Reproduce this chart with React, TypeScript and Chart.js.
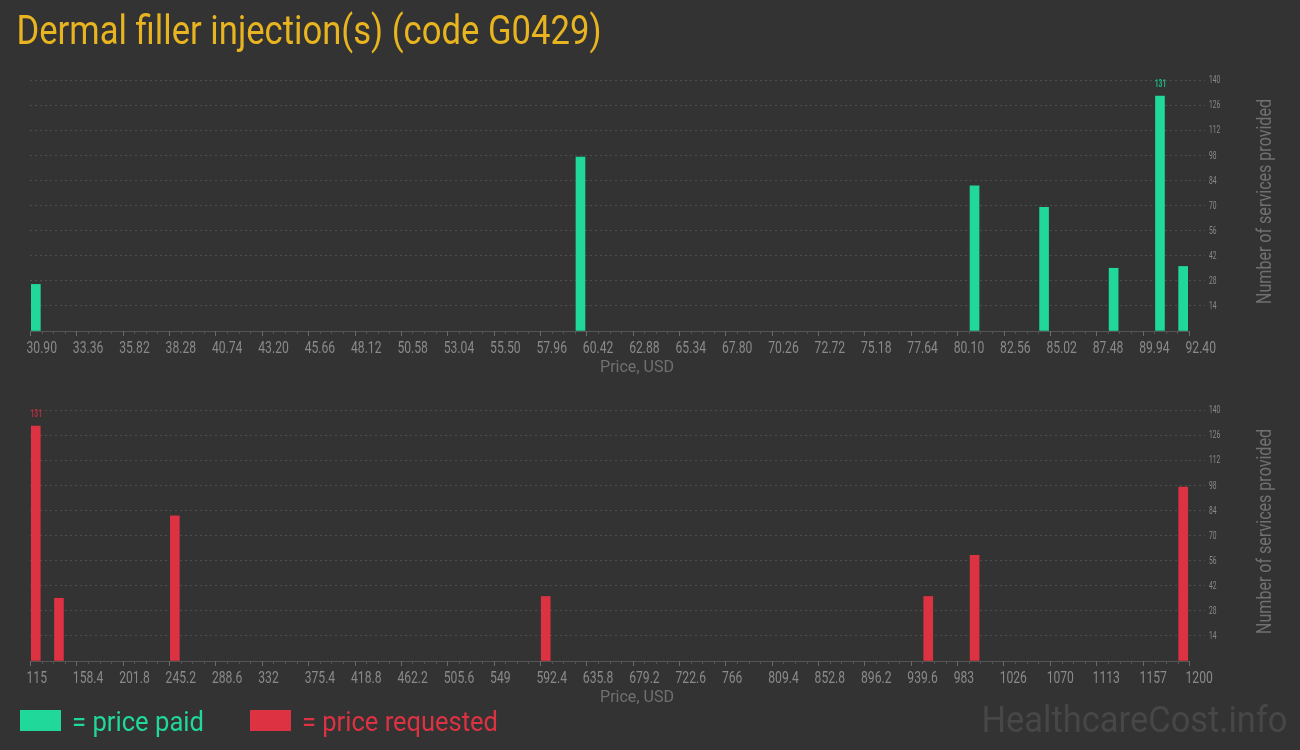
import { useEffect, useRef } from "react";
import { Chart, registerables } from "chart.js";

Chart.register(...registerables);

// ---- data ----
const titleText = "Dermal filler injection(s) (code G0429)";

// price paid: bin centre (USD) and number of services in that bin
const paidPrices = [31.21, 60.11, 81.02, 84.71, 88.4, 90.86, 92.09];
const paidCounts = [26, 97, 81, 69, 35, 131, 36];
const paidTickLabels = [
  "30.90", "33.36", "35.82", "38.28", "40.74", "43.20", "45.66", "48.12", "50.58",
  "53.04", "55.50", "57.96", "60.42", "62.88", "65.34", "67.80", "70.26", "72.72",
  "75.18", "77.64", "80.10", "82.56", "85.02", "87.48", "89.94", "92.40",
];

// price requested
const requestedPrices = [120.4, 142.1, 250.6, 597.8, 955.9, 999.3, 1194.6];
const requestedCounts = [131, 35, 81, 36, 36, 59, 97];
const requestedTickLabels = [
  "115", "158.4", "201.8", "245.2", "288.6", "332", "375.4", "418.8", "462.2",
  "505.6", "549", "592.4", "635.8", "679.2", "722.6", "766", "809.4", "852.8",
  "896.2", "939.6", "983", "1026", "1070", "1113", "1157", "1200",
];

const countTickValues = [14, 28, 42, 56, 70, 84, 98, 112, 126, 140];
const countMax = 140;

const xAxisTitle = "Price, USD";
const yAxisTitle = "Number of services provided";
const legendPaid = "= price paid";
const legendRequested = "= price requested";
const watermarkText = "HealthcareCost.info";

// ---- style ----
const BG = "#333333";
const GREEN = "#21d89b";
const GREEN_DARK = "#1cb886";
const RED = "#dc3242";
const RED_DARK = "#b5303d";
const YELLOW = "#e8b420";
const TICK_TEXT = "#8a8a8a";
const AXIS_TITLE = "#707070";
const GRID = "#4e4e4e";
const AXIS_LINE = "#555555";
const FONT = "Roboto, 'Liberation Sans', sans-serif";

function textScale(ctx: CanvasRenderingContext2D, font: string, sample: string, width: number) {
  ctx.font = font;
  return width / ctx.measureText(sample).width;
}

function drawText(
  ctx: CanvasRenderingContext2D,
  text: string,
  x: number,
  y: number,
  font: string,
  color: string,
  sx: number,
  align: CanvasTextAlign = "left",
  baseline: CanvasTextBaseline = "alphabetic",
  rotation = 0
) {
  ctx.save();
  ctx.font = font;
  ctx.fillStyle = color;
  ctx.textAlign = align;
  ctx.textBaseline = baseline;
  ctx.translate(x, y);
  if (rotation) ctx.rotate(rotation);
  ctx.scale(sx, 1);
  ctx.fillText(text, 0, 0);
  ctx.restore();
}

function drawFit(
  ctx: CanvasRenderingContext2D,
  text: string,
  x: number,
  y: number,
  font: string,
  color: string,
  width: number,
  align: CanvasTextAlign = "left",
  rotation = 0
) {
  const sx = textScale(ctx, font, text, width);
  drawText(ctx, text, x, y, font, color, sx, align, "alphabetic", rotation);
}

function makeConfig(
  prices: number[],
  counts: number[],
  tickLabels: string[],
  color: string,
  peakColor: string
): any {
  const tickValues = tickLabels.map(Number);
  const xMin = tickValues[0];
  const xMax = tickValues[tickValues.length - 1];

  const decor = {
    id: "panelDecor",
    afterDraw(chart: any) {
      const { ctx, chartArea } = chart;
      const xs = chart.scales.x;
      const ys = chart.scales.y;
      const bottom = chartArea.bottom;

      // tick marks: long at labelled values, three short ones in between
      ctx.save();
      ctx.lineWidth = 1;
      for (let i = 0; i < tickValues.length; i++) {
        const px = Math.round(xs.getPixelForValue(tickValues[i])) + 0.5;
        ctx.strokeStyle = "#6a6a6a";
        ctx.beginPath();
        ctx.moveTo(px, bottom);
        ctx.lineTo(px, bottom + 5);
        ctx.stroke();
        if (i < tickValues.length - 1) {
          const step = (tickValues[i + 1] - tickValues[i]) / 4;
          ctx.strokeStyle = "#555555";
          for (let q = 1; q < 4; q++) {
            const mx = Math.round(xs.getPixelForValue(tickValues[i] + step * q)) + 0.5;
            ctx.beginPath();
            ctx.moveTo(mx, bottom);
            ctx.lineTo(mx, bottom + 3);
            ctx.stroke();
          }
        }
      }
      ctx.restore();

      // x tick labels
      const xFont = `17px ${FONT}`;
      const xsx = textScale(ctx, xFont, "30.90", 30.5);
      tickLabels.forEach((label, i) => {
        const px = xs.getPixelForValue(tickValues[i]);
        drawText(ctx, label, px - 3.5, bottom + 22, xFont, TICK_TEXT, xsx, "left");
      });

      // y tick labels on the right
      const yFont = `11px ${FONT}`;
      const ysx = textScale(ctx, yFont, "140", 11.3);
      countTickValues.forEach((v) => {
        const py = ys.getPixelForValue(v);
        drawText(ctx, String(v), chartArea.right + 20, py + 0.5, yFont, TICK_TEXT, ysx, "left", "middle");
      });

      // axis titles
      drawFit(ctx, xAxisTitle, 637, bottom + 41, `17px ${FONT}`, AXIS_TITLE, 74, "center");
      drawFit(
        ctx,
        yAxisTitle,
        1270.5,
        (chartArea.top + chartArea.bottom) / 2 - 4,
        `20px ${FONT}`,
        AXIS_TITLE,
        205,
        "center",
        -Math.PI / 2
      );

      // value label over the tallest bar
      const meta = chart.getDatasetMeta(0);
      let peak = 0;
      counts.forEach((c, i) => {
        if (c > counts[peak]) peak = i;
      });
      const bar = meta.data[peak];
      if (bar) {
        drawText(ctx, String(counts[peak]), bar.x + 0.5, bar.y - 9, `bold 11px ${FONT}`, peakColor, ysx, "center");
      }
    },
  };

  return {
    type: "bar",
    data: {
      datasets: [
        {
          data: prices.map((p, i) => ({ x: p, y: counts[i] })),
          backgroundColor: color,
          borderWidth: 0,
          barThickness: 9,
        },
      ],
    },
    options: {
      animation: false,
      responsive: false,
      maintainAspectRatio: false,
      events: [],
      layout: { padding: { left: 30, top: 20, right: 0, bottom: 0 } },
      plugins: { legend: { display: false }, tooltip: { enabled: false }, title: { display: false } },
      scales: {
        x: {
          type: "linear",
          min: xMin,
          max: xMax,
          offset: false,
          grid: { display: false, offset: false },
          border: { display: true, color: AXIS_LINE, width: 1 },
          ticks: { display: false },
          afterBuildTicks: (s: any) => {
            s.ticks = tickValues.map((v) => ({ value: v }));
          },
          afterFit: (s: any) => {
            s.height = 49;
          },
        },
        y: {
          type: "linear",
          position: "right",
          min: 0,
          max: countMax,
          ticks: { display: false },
          afterBuildTicks: (s: any) => {
            s.ticks = [0, ...countTickValues].map((v) => ({ value: v }));
          },
          grid: {
            color: (c: any) => (c.tick && c.tick.value === 0 ? "rgba(0,0,0,0)" : GRID),
            tickColor: (c: any) => (c.tick && c.tick.value === 0 ? "rgba(0,0,0,0)" : GRID),
            lineWidth: 1,
            drawTicks: true,
            tickLength: 16,
            tickBorderDash: [2, 3],
          },
          border: { display: false, dash: [2, 3] },
          afterFit: (s: any) => {
            s.width = 111;
          },
        },
      },
    },
    plugins: [decor],
  };
}

function drawFrame(ctx: CanvasRenderingContext2D) {
  ctx.fillStyle = BG;
  ctx.fillRect(0, 0, 1300, 750);

  // title
  drawFit(ctx, titleText, 16.5, 44, `41px ${FONT}`, YELLOW, 585);

  // legend
  ctx.fillStyle = GREEN;
  ctx.fillRect(20, 710, 41, 21);
  drawFit(ctx, legendPaid, 72, 731, `28px ${FONT}`, GREEN, 132);
  ctx.fillStyle = RED;
  ctx.fillRect(250, 710, 41, 21);
  drawFit(ctx, legendRequested, 302, 731, `28px ${FONT}`, RED, 196);

  // site mark
  drawFit(ctx, watermarkText, 981.5, 731.5, `37.5px ${FONT}`, "#474747", 306);
}

export default function App() {
  const frameRef = useRef<HTMLCanvasElement>(null);
  const paidRef = useRef<HTMLCanvasElement>(null);
  const requestedRef = useRef<HTMLCanvasElement>(null);

  useEffect(() => {
    document.body.style.margin = "0";
    document.body.style.background = BG;
    const fctx = frameRef.current!.getContext("2d")!;
    drawFrame(fctx);
    const paidChart = new Chart(
      paidRef.current!,
      makeConfig(paidPrices, paidCounts, paidTickLabels, GREEN, GREEN_DARK)
    );
    const requestedChart = new Chart(
      requestedRef.current!,
      makeConfig(requestedPrices, requestedCounts, requestedTickLabels, RED, RED_DARK)
    );
    return () => {
      paidChart.destroy();
      requestedChart.destroy();
    };
  }, []);

  return (
    <div style={{ position: "relative", width: 1300, height: 750, background: BG, overflow: "hidden" }}>
      <canvas ref={frameRef} width={1300} height={750} style={{ position: "absolute", left: 0, top: 0 }} />
      <canvas ref={paidRef} width={1300} height={320} style={{ position: "absolute", left: 0, top: 60 }} />
      <canvas ref={requestedRef} width={1300} height={320} style={{ position: "absolute", left: 0, top: 390 }} />
    </div>
  );
}
